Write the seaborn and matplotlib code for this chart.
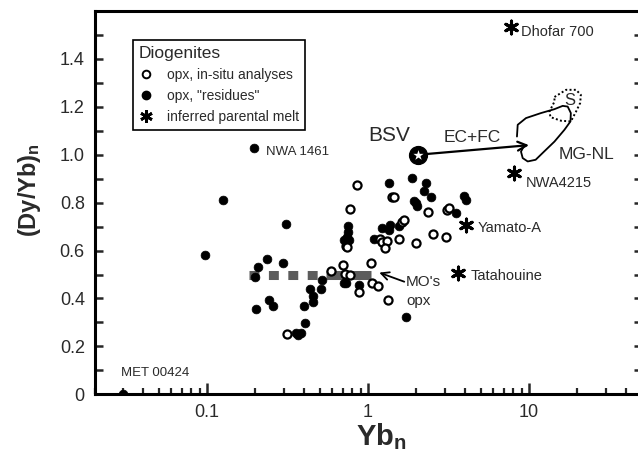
import matplotlib
matplotlib.use("Agg")
import numpy as np
import pandas as pd
import matplotlib.pyplot as plt
import seaborn as sns
from matplotlib.lines import Line2D
from matplotlib.ticker import FixedLocator, LogLocator, FuncFormatter, NullFormatter

# opx, in-situ analyses (open circles)
insitu_yb = [0.851, 1.410, 1.450, 0.776, 0.730, 0.741, 1.187, 1.230, 1.312, 1.276,
             1.558, 1.626, 1.680, 1.986, 2.358, 2.523, 3.05, 3.10, 3.19, 0.589,
             0.697, 0.720, 0.768, 1.044, 1.054, 1.149, 0.873, 1.325, 0.314]
insitu_dyyb = [0.874, 0.823, 0.823, 0.774, 0.619, 0.613, 0.647, 0.637, 0.642, 0.609,
               0.647, 0.721, 0.728, 0.631, 0.759, 0.668, 0.656, 0.770, 0.776, 0.515,
               0.540, 0.502, 0.498, 0.548, 0.466, 0.454, 0.429, 0.393, 0.252]

# opx, "residues" (filled circles)
residue_yb = [0.125, 0.197, 0.310, 0.0976, 0.235, 0.208, 0.298, 0.1995, 0.244, 0.256,
              0.202, 0.402, 0.406, 0.438, 0.457, 0.454, 0.513, 0.516, 0.713, 0.730,
              0.875, 1.356, 0.751, 0.748, 0.741, 0.706, 0.766, 1.222, 1.370, 1.356,
              1.564, 1.085, 1.722, 0.357, 0.384, 0.366, 1.876, 2.292, 2.237, 2.462,
              1.939, 1.986, 2.015, 3.52, 3.96, 4.06, 0.030]
residue_dyyb = [0.812, 1.028, 0.710, 0.582, 0.564, 0.530, 0.550, 0.491, 0.394, 0.370,
                0.355, 0.369, 0.299, 0.441, 0.411, 0.387, 0.439, 0.477, 0.466, 0.464,
                0.457, 0.884, 0.703, 0.679, 0.658, 0.645, 0.645, 0.693, 0.707, 0.686,
                0.703, 0.647, 0.322, 0.257, 0.255, 0.248, 0.902, 0.881, 0.850, 0.825,
                0.805, 0.798, 0.787, 0.756, 0.828, 0.812, 0.0]

# inferred parental melts (asterisks)
melt_names = ["Dhofar 700", "NWA4215", "Yamato-A", "Tatahouine"]
melt_yb = [7.73, 8.11, 4.06, 3.62]
melt_dyyb = [1.535, 0.923, 0.707, 0.506]

# bulk silicate Vesta and EC+FC path
bsv_yb, bsv_dyyb = 2.05, 1.0
ecfc_yb = [2.05, 10.0]
ecfc_dyyb = [1.0, 1.04]

# MO's opx range
mo_yb = [0.182, 0.548, 1.04]
mo_dyyb = [0.5, 0.5, 0.5]

# main group - Nuevo Laredo eucrite field and Stannern field
mgnl_yb = [8.42, 8.51, 9.58, 11.88, 14.36, 16.2, 17.4, 18.2, 18.1, 16.6, 14.4,
           12.4, 11.0, 9.82, 9.14, 8.92, 9.27]
mgnl_dyyb = [1.076, 1.125, 1.153, 1.174, 1.190, 1.204, 1.201, 1.174, 1.139, 1.104,
             1.055, 1.013, 0.979, 0.972, 0.986, 1.013, 1.034]
stannern_yb = [14.4, 17.0, 19.6, 21.0, 20.8, 19.6, 18.2, 15.8, 13.6, 13.4, 14.4, 14.4]
stannern_dyyb = [1.241, 1.271, 1.271, 1.250, 1.216, 1.180, 1.139, 1.142, 1.157,
                 1.180, 1.222, 1.241]

y_ticks = [0, 0.2, 0.4, 0.6, 0.8, 1.0, 1.2, 1.4]
x_ticks = [0.1, 1, 10]

insitu = pd.DataFrame({"Yb": insitu_yb, "DyYb": insitu_dyyb})
residues = pd.DataFrame({"Yb": residue_yb, "DyYb": residue_dyyb})
melts = pd.DataFrame({"name": melt_names, "Yb": melt_yb, "DyYb": melt_dyyb})

sns.set_style("ticks")
plt.rcParams["font.family"] = ["Liberation Sans", "DejaVu Sans"]
plt.rcParams["mathtext.fontset"] = "custom"
plt.rcParams["mathtext.rm"] = "Liberation Sans"
plt.rcParams["mathtext.bf"] = "Liberation Sans:bold"

txt = "#2a2a2a"
asterisk = (6, 2, 0)

fig = plt.figure(figsize=(6.38, 4.57), dpi=100)
ax = fig.add_axes([94.5 / 638, 62.7 / 457, 547 / 638, 383.3 / 457])
ax.set_xscale("log")
ax.set_xlim(0.02, 50)
ax.set_ylim(0, 1.6)

# MO's opx bar
ax.plot(mo_yb[:2], mo_dyyb[:2], color="#5c5c5c", lw=6.5, solid_capstyle="butt",
        dash_capstyle="butt", linestyle=(0, (1.1, 1.05)), zorder=2)
ax.plot(mo_yb[1:], mo_dyyb[1:], color="#5c5c5c", lw=6.5, solid_capstyle="butt", zorder=2)

sns.scatterplot(data=residues, x="Yb", y="DyYb", ax=ax, color="black", s=40,
                edgecolor="black", linewidth=0.5, zorder=3, legend=False)
sns.scatterplot(data=insitu, x="Yb", y="DyYb", ax=ax, facecolor="white", s=34,
                edgecolor="black", linewidth=1.6, zorder=4, legend=False)
sns.scatterplot(data=melts, x="Yb", y="DyYb", ax=ax, marker=asterisk, color="black",
                s=85, linewidth=2.2, zorder=4, legend=False)

# field outlines
ax.plot(mgnl_yb, mgnl_dyyb, color="black", lw=1.3, zorder=2)
ax.plot(stannern_yb, stannern_dyyb, color="black", lw=1.4, ls=(0, (1, 1.2)), zorder=2)
ax.text(17.9, 1.226, "S", fontsize=12, color=txt, ha="center", va="center")
ax.text(22.8, 1.0, "MG-NL", fontsize=12.5, color=txt, ha="center", va="center")

# BSV and EC+FC arrow
ax.annotate("", xy=(ecfc_yb[1], ecfc_dyyb[1]), xytext=(ecfc_yb[0], ecfc_dyyb[0]),
            arrowprops=dict(arrowstyle="->", lw=1.6, color="black", shrinkA=6,
                            shrinkB=0, mutation_scale=16), zorder=3)
ax.scatter([bsv_yb], [bsv_dyyb], s=165, color="black", zorder=5)
ax.scatter([bsv_yb], [bsv_dyyb], s=60, marker="*", color="white", linewidth=0, zorder=6)
ax.annotate("BSV", (bsv_yb, bsv_dyyb), xytext=(-21, 14), textcoords="offset points",
            fontsize=15, color=txt, ha="center", va="center")
ax.text(4.43, 1.07, "EC+FC", fontsize=12.5, color=txt, ha="center", va="center")

# MO's opx arrow
ax.annotate("", xy=(1.175, 0.508), xytext=(1.68, 0.47),
            arrowprops=dict(arrowstyle="->", lw=1.3, color="black", shrinkA=0,
                            shrinkB=0, mutation_scale=14), zorder=5)
ax.text(1.72, 0.47, "MO's", fontsize=11, color=txt, ha="left", va="center")
ax.text(1.72, 0.39, "opx", fontsize=11, color=txt, ha="left", va="center")

# point labels
offsets = {"Dhofar 700": (7, -3.6), "NWA4215": (8.4, -7.2),
           "Yamato-A": (8.6, -2.2), "Tatahouine": (9.4, -2.2)}
for _, r in melts.iterrows():
    ax.annotate(r["name"], (r["Yb"], r["DyYb"]), xytext=offsets[r["name"]],
                textcoords="offset points", fontsize=10.5, color=txt,
                ha="left", va="center")
ax.annotate("NWA 1461", (0.197, 1.028), xytext=(8.4, -3.2), textcoords="offset points",
            fontsize=9.5, color=txt, ha="left", va="center")
ax.annotate("MET 00424", (0.030, 0.0), xytext=(-1.4, 15), textcoords="offset points",
            fontsize=9.5, color=txt, ha="left", va="center")

# axes styling
ax.xaxis.set_major_locator(FixedLocator(x_ticks))
ax.xaxis.set_major_formatter(FuncFormatter(lambda v, p: f"{v:g}"))
ax.xaxis.set_minor_locator(LogLocator(base=10, subs=np.arange(2, 10)))
ax.xaxis.set_minor_formatter(NullFormatter())
ax.yaxis.set_major_locator(FixedLocator(y_ticks))
ax.yaxis.set_minor_locator(FixedLocator(np.arange(0.1, 1.55, 0.2)))
ax.yaxis.set_major_formatter(FuncFormatter(lambda v, p: "0" if abs(v) < 1e-9 else f"{v:.1f}"))

for side in ["left", "bottom", "top"]:
    ax.spines[side].set_linewidth(2.2)
    ax.spines[side].set_color("black")
ax.spines["right"].set_visible(False)

ax.tick_params(axis="x", which="major", direction="in", length=8, width=1.8,
               labelsize=13, labelcolor=txt, pad=7)
ax.tick_params(axis="x", which="minor", direction="in", length=4, width=1.6)
ax.tick_params(axis="y", which="both", direction="in", length=5.5, width=1.8,
               right=True, labelsize=13, labelcolor=txt, pad=7)

ax.set_xlabel(r"$\mathbf{Yb_n}$", fontsize=21, color=txt)
ax.xaxis.set_label_coords(0.524, -0.07)
ax.set_ylabel(r"$\mathbf{(Dy/Yb)_n}$", fontsize=17, color=txt)
ax.yaxis.set_label_coords(-0.095, 0.533)

handles = [
    Line2D([], [], ls="", marker="o", mfc="white", mec="black", mew=1.4, ms=5.5),
    Line2D([], [], ls="", marker="o", mfc="black", mec="black", ms=6),
    Line2D([], [], ls="", marker=asterisk, color="black", mew=2, ms=9),
]
labels = ["opx, in-situ analyses", 'opx, "residues"', "inferred parental melt"]
leg = ax.legend(handles, labels, title="Diogenites", loc="upper left",
                bbox_to_anchor=(0.070, 0.924), borderaxespad=0, fontsize=10,
                title_fontsize=12.5, frameon=True, fancybox=False, framealpha=1,
                edgecolor="black", handlelength=1.0, handletextpad=1.0,
                labelspacing=0.5, borderpad=0.45, alignment="left")
leg.get_frame().set_linewidth(1.2)
for t in leg.get_texts():
    t.set_color(txt)
leg.get_title().set_color(txt)

fig.savefig("out.png", dpi=100)
